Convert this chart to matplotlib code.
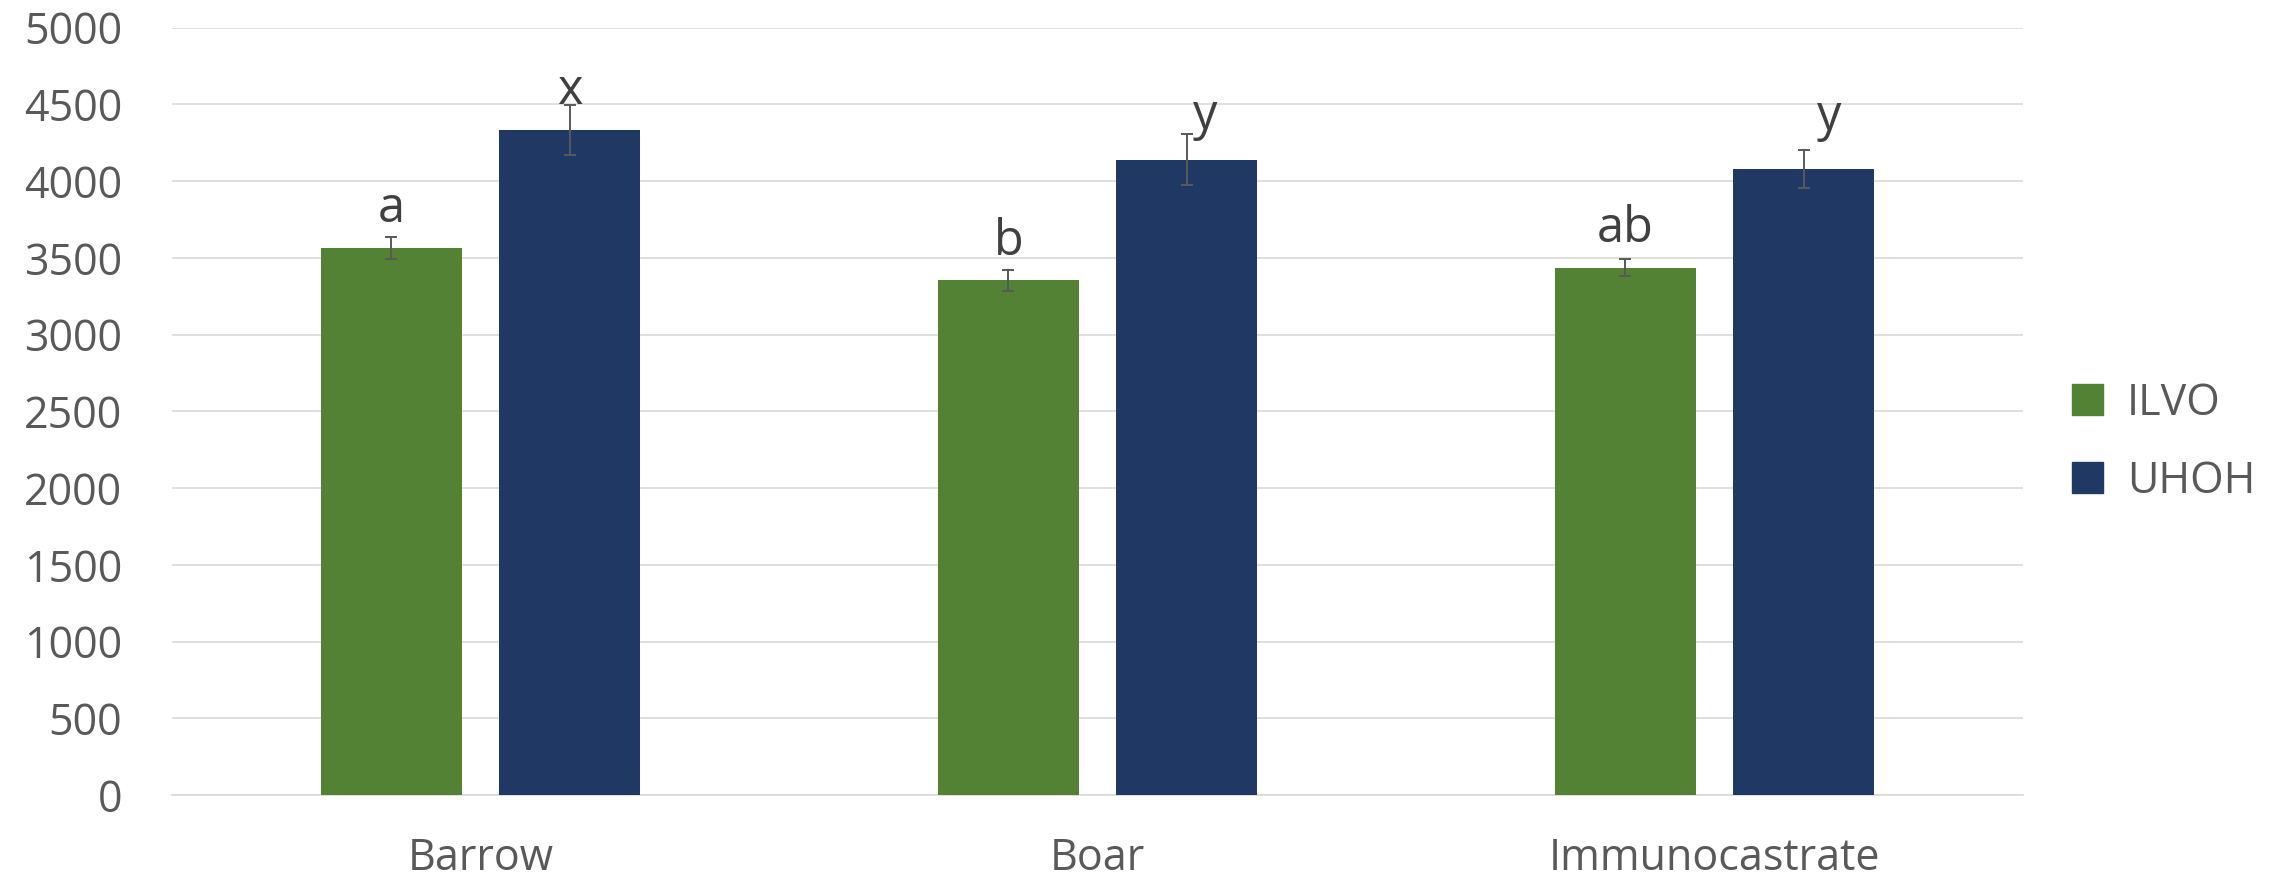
import matplotlib.pyplot as plt
import numpy as np
from matplotlib.patches import Patch

plt.rcParams['font.family'] = ['Open Sans', 'DejaVu Sans']

# groups and series
categories = ['Barrow', 'Boar', 'Immunocastrate']
series = ['ILVO', 'UHOH']
ilvo = [3565, 3353, 3435]
ilvo_err = [70, 68, 55]
uhoh = [4332, 4140, 4076]
uhoh_err = [163, 167, 124]

# significance letters and where they sit
ilvo_letters = ['a', 'b', 'ab']
uhoh_letters = ['x', 'y', 'y']
ilvo_label_y = [3735, 3520, 3603]
uhoh_label_y = [4504, 4337, 4330]
uhoh_label_dx = [0.0, 0.03, 0.042]

green = '#548235'
navy = '#203864'
txt = '#595959'
grid = '#D9D9D9'

fig = plt.figure(figsize=(22.82, 8.85), dpi=100)
ax = fig.add_axes([0.0754, 0.1017, 0.8111, 0.8671])

x = np.arange(len(categories))
w = 0.229
off = 0.1445

ax.bar(x - off, ilvo, w, color=green, zorder=3)
ax.bar(x + off, uhoh, w, color=navy, zorder=3)
ax.errorbar(x - off, ilvo, yerr=ilvo_err, fmt='none', ecolor=txt,
            elinewidth=1.4, capsize=4.5, capthick=1.4, zorder=4)
ax.errorbar(x + off, uhoh, yerr=uhoh_err, fmt='none', ecolor=txt,
            elinewidth=1.4, capsize=4.5, capthick=1.4, zorder=4)

for i in range(len(categories)):
    ax.text(x[i] - off, ilvo_label_y[i], ilvo_letters[i], ha='center',
            va='baseline', fontsize=35, color='#404040', zorder=5)
    ax.text(x[i] + off + uhoh_label_dx[i], uhoh_label_y[i], uhoh_letters[i],
            ha='center', va='baseline', fontsize=35, color='#404040', zorder=5)

ax.set_xlim(-0.5, len(categories) - 0.5)
ax.set_ylim(0, 5000)
ax.set_yticks(np.arange(0, 5001, 500))
ax.set_xticks(x)
ax.set_xticklabels(categories)
ax.yaxis.grid(True, color=grid, linewidth=1.2, zorder=0)
ax.set_axisbelow(True)
for s in ['top', 'right', 'left']:
    ax.spines[s].set_visible(False)
ax.spines['bottom'].set_color(grid)
ax.spines['bottom'].set_linewidth(1.2)
ax.tick_params(axis='y', length=0, pad=36, labelsize=31, labelcolor=txt)
ax.tick_params(axis='x', length=0, pad=30, labelsize=31, labelcolor=txt)

handles = [Patch(color=green, label=series[0]), Patch(color=navy, label=series[1])]
fig.legend(handles=handles, loc='center left', bbox_to_anchor=(0.908, 0.5),
           frameon=False, fontsize=31, labelcolor=txt, handlelength=0.72,
           handleheight=0.72, handletextpad=0.55, labelspacing=0.78,
           borderpad=0, borderaxespad=0)

fig.savefig('out.png', dpi=100)
